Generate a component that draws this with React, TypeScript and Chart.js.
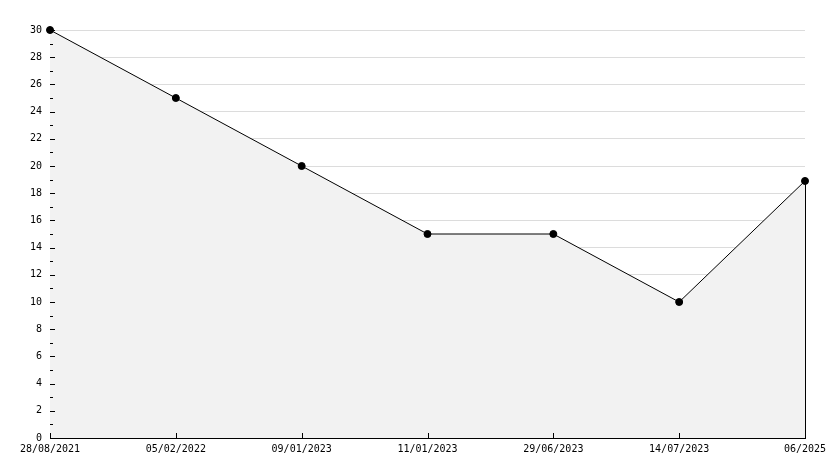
import React, { useEffect, useRef } from "react";
import { Chart, registerables } from "chart.js";
Chart.register(...registerables);

const categories = ["28/08/2021", "05/02/2022", "09/01/2023", "11/01/2023", "29/06/2023", "14/07/2023", "06/2025"];
const values = [30, 25, 20, 15, 15, 10, 18.9];
const yMin = 0;
const yMax = 30;

const FONT = { family: "'DejaVu Sans Mono', monospace", size: 10 };

const tickPlugin = {
  id: "tickMarks",
  afterDraw(chart: any) {
    const { ctx, chartArea, scales } = chart;
    const y = scales.y;
    const x = scales.x;
    ctx.save();
    ctx.strokeStyle = "#000";
    ctx.lineWidth = 1;
    ctx.beginPath();
    for (let v = yMin; v <= yMax; v++) {
      const py = Math.round(y.getPixelForValue(v)) + 0.5;
      const len = v % 2 === 0 ? 5 : 3;
      ctx.moveTo(chartArea.left, py);
      ctx.lineTo(chartArea.left + len, py);
    }
    categories.forEach((_, i) => {
      const px = Math.round(x.getPixelForValue(i)) + 0.5;
      ctx.moveTo(px, chartArea.bottom);
      ctx.lineTo(px, chartArea.bottom - 5);
    });
    const lx = Math.round(x.getPixelForValue(values.length - 1)) + 0.5;
    ctx.moveTo(lx, y.getPixelForValue(values[values.length - 1]));
    ctx.lineTo(lx, y.getPixelForValue(0));
    ctx.stroke();
    ctx.restore();
  },
};

export default function App() {
  const ref = useRef<HTMLCanvasElement>(null);
  useEffect(() => {
    document.body.style.margin = "0";
    const chart = new Chart(ref.current!, {
      type: "line",
      data: {
        labels: categories,
        datasets: [
          {
            data: values,
            borderColor: "#000",
            borderWidth: 1,
            backgroundColor: "#f2f2f2",
            fill: "origin",
            tension: 0,
            clip: false,
            pointRadius: 3.5,
            pointStyle: "circle",
            pointBackgroundColor: "#000",
            pointBorderColor: "#000",
          },
        ],
      },
      options: {
        animation: false,
        responsive: false,
        devicePixelRatio: 1,
        layout: { padding: { left: 0, top: 30, right: 29, bottom: 0 } },
        plugins: { legend: { display: false }, tooltip: { enabled: false } },
        scales: {
          x: {
            offset: false,
            grid: { display: false, drawTicks: false },
            border: { display: true, color: "#000", width: 1 },
            ticks: { color: "#000", font: FONT, maxRotation: 0, autoSkip: false, padding: 5 },
            afterFit: (s: any) => { s.height = 30; },
          },
          y: {
            min: yMin,
            max: yMax,
            grid: {
              drawTicks: false,
              color: (c: any) => (c.tick && c.tick.value % 2 === 0 && c.tick.value !== 0 ? "#dcdcdc" : "rgba(0,0,0,0)"),
            },
            border: { display: true, color: "#000", width: 1 },
            ticks: {
              stepSize: 1,
              autoSkip: false,
              color: "#000",
              font: FONT,
              padding: 8,
              callback: (v: any) => (Number(v) % 2 === 0 ? String(v) : ""),
            },
            afterFit: (s: any) => { s.width = 50; },
          },
        },
      },
      plugins: [tickPlugin],
    });
    return () => chart.destroy();
  }, []);
  return <canvas ref={ref} width={834} height={468} style={{ display: "block" }} />;
}
